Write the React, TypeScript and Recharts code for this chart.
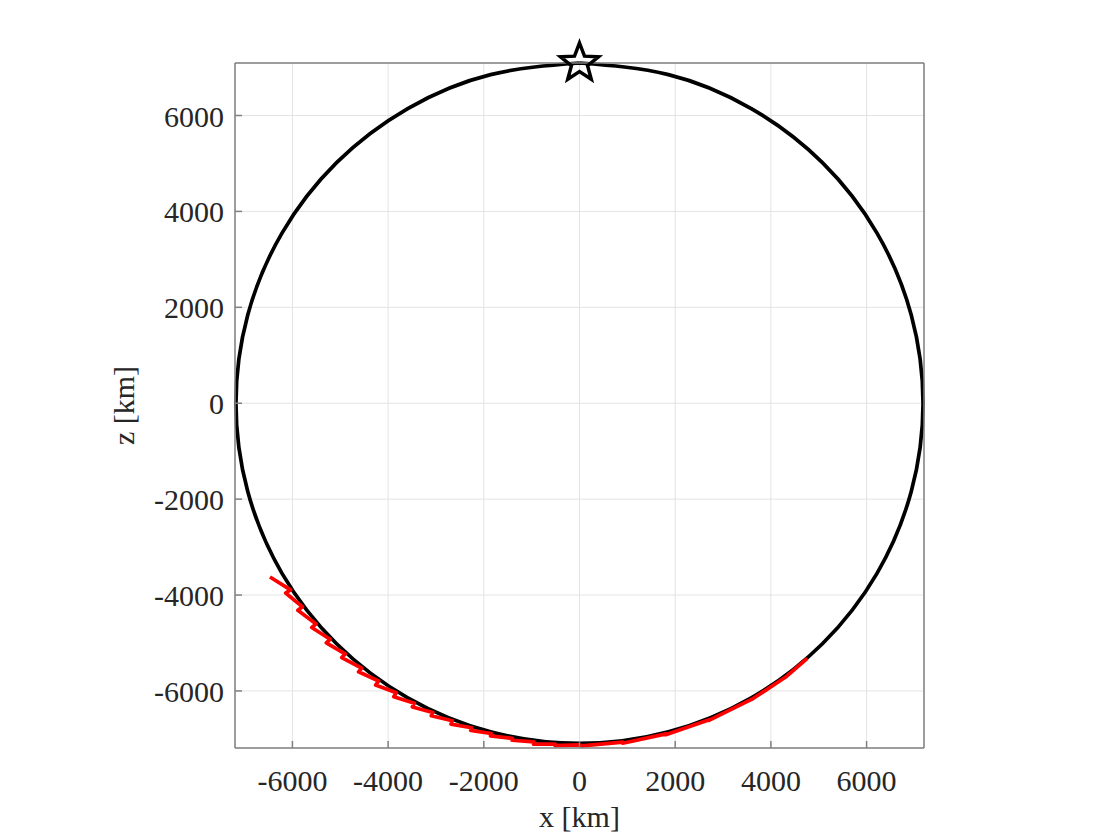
import React from 'react'
import { LineChart, Line, XAxis, YAxis, CartesianGrid, ReferenceDot } from 'recharts'

// reference orbit (black), points every 15 deg
const orbitX = [0, 1858, 3590, 5077, 6218, 6935, 7180, 6935, 6218, 5077, 3590, 1858, 0, -1858, -3590, -5077, -6218, -6935, -7180, -6935, -6218, -5077, -3590, -1858, 0]
const orbitZ = [7095, 6853, 6144, 5017, 3548, 1836, 0, -1836, -3548, -5017, -6144, -6853, -7095, -6853, -6144, -5017, -3548, -1836, 0, 1836, 3548, 5017, 6144, 6853, 7095]

// propagated trajectory (red), saw-tooth segments
const trajX = [-6469, -6039, -6141, -5790, -5887, -5505, -5595, -5213, -5291, -4898, -4968, -4554, -4618, -4198, -4260, -3829, -3882, -3450, -3493, -3066, -3098, -2657, -2685, -2256, -2274, -1847, -1860, -1402, -1410, -955, -961, -507, -510, 0, 44, 904, 902, 1807, 1803, 2711, 2705, 3614, 3606, 4317, 4308, 4760]
const trajZ = [-3623, -3893, -3958, -4246, -4318, -4602, -4677, -4923, -4997, -5229, -5304, -5523, -5601, -5792, -5877, -6036, -6120, -6256, -6334, -6448, -6517, -6623, -6691, -6767, -6821, -6887, -6937, -6988, -7028, -7063, -7108, -7107, -7142, -7125, -7144, -7067, -7091, -6896, -6912, -6600, -6614, -6164, -6173, -5705, -5713, -5320]

// start marker
const startX = 0
const startZ = 7095

const xTicks = [-6000, -4000, -2000, 0, 2000, 4000, 6000]
const zTicks = [-6000, -4000, -2000, 0, 2000, 4000, 6000]
const xDomain = [-7200, 7200]
const zDomain = [-7190, 7095]

const orbit = orbitX.map((x, i) => ({ x, z: orbitZ[i] }))
const traj = trajX.map((x, i) => ({ x, z: trajZ[i] }))

const FONT = '"Liberation Serif", "Times New Roman", serif'
const AXIS = '#808080'
const TEXT = '#262626'

const LeftTick = (props: any) => {
    const { x, y, payload } = props
    return (
        <g>
            <line x1={x} x2={x + 7} y1={y} y2={y} stroke={AXIS} strokeWidth={1.5} />
            <text x={x - 11} y={y} dy={11} textAnchor="end" fontFamily={FONT} fontSize={30} fill={TEXT}>
                {payload.value}
            </text>
        </g>
    )
}

const BottomTick = (props: any) => {
    const { x, y, payload } = props
    return (
        <g>
            <line x1={x} x2={x} y1={y} y2={y - 7} stroke={AXIS} strokeWidth={1.5} />
            <text x={x} y={y + 43} textAnchor="middle" fontFamily={FONT} fontSize={30} fill={TEXT}>
                {payload.value}
            </text>
        </g>
    )
}

const RightTick = (props: any) => {
    const { x, y } = props
    return <line x1={x} x2={x - 7} y1={y} y2={y} stroke={AXIS} strokeWidth={1.5} />
}

const TopTick = (props: any) => {
    const { x, y } = props
    return <line x1={x} x2={x} y1={y} y2={y + 7} stroke={AXIS} strokeWidth={1.5} />
}

const Star = (props: any) => {
    const { cx, cy } = props
    const pts: string[] = []
    for (let i = 0; i < 10; i++) {
        const r = i % 2 === 0 ? 20 : 8.5
        const a = -Math.PI / 2 + (i * Math.PI) / 5
        pts.push(`${cx + r * Math.cos(a)},${cy + r * Math.sin(a)}`)
    }
    return <polygon points={pts.join(' ')} fill="none" stroke="#000" strokeWidth={3.5} strokeLinejoin="miter" />
}

export default function App() {
    return (
        <div style={{ position: 'absolute', left: 0, top: 0, width: 1120, height: 840, background: '#fff' }}>
            <LineChart width={1120} height={840} margin={{ top: 62, right: 195, left: 125, bottom: 42 }}>
                <CartesianGrid stroke="#e3e3e3" strokeWidth={1} />
                <XAxis
                    type="number"
                    dataKey="x"
                    domain={xDomain}
                    ticks={xTicks}
                    height={50}
                    tickSize={0}
                    tickMargin={0}
                    tickLine={false}
                    tick={<BottomTick />}
                    axisLine={{ stroke: AXIS, strokeWidth: 1.5 }}
                    label={{ value: 'x [km]', position: 'bottom', offset: 8, fontFamily: FONT, fontSize: 30, fill: TEXT }}
                />
                <XAxis
                    xAxisId="top"
                    orientation="top"
                    type="number"
                    domain={xDomain}
                    ticks={xTicks}
                    height={1}
                    tickSize={0}
                    tickMargin={0}
                    tickLine={false}
                    tick={<TopTick />}
                    axisLine={{ stroke: AXIS, strokeWidth: 1.5 }}
                />
                <YAxis
                    type="number"
                    dataKey="z"
                    domain={zDomain}
                    ticks={zTicks}
                    width={110}
                    tickSize={0}
                    tickMargin={0}
                    tickLine={false}
                    tick={<LeftTick />}
                    axisLine={{ stroke: AXIS, strokeWidth: 1.5 }}
                    label={{ value: 'z [km]', angle: -90, position: 'insideLeft', offset: -2, style: { textAnchor: 'middle' }, fontFamily: FONT, fontSize: 30, fill: TEXT }}
                />
                <YAxis
                    yAxisId="right"
                    orientation="right"
                    type="number"
                    domain={zDomain}
                    ticks={zTicks}
                    width={1}
                    tickSize={0}
                    tickMargin={0}
                    tickLine={false}
                    tick={<RightTick />}
                    axisLine={{ stroke: AXIS, strokeWidth: 1.5 }}
                />
                <Line
                    data={orbit}
                    dataKey="z"
                    type="natural"
                    stroke="#000000"
                    strokeWidth={3.7}
                    dot={false}
                    isAnimationActive={false}
                />
                <Line
                    data={traj}
                    dataKey="z"
                    type="linear"
                    stroke="#ff0000"
                    strokeWidth={3.7}
                    strokeLinejoin="round"
                    dot={false}
                    isAnimationActive={false}
                />
                <ReferenceDot x={startX} y={startZ} shape={<Star />} />
            </LineChart>
        </div>
    )
}
